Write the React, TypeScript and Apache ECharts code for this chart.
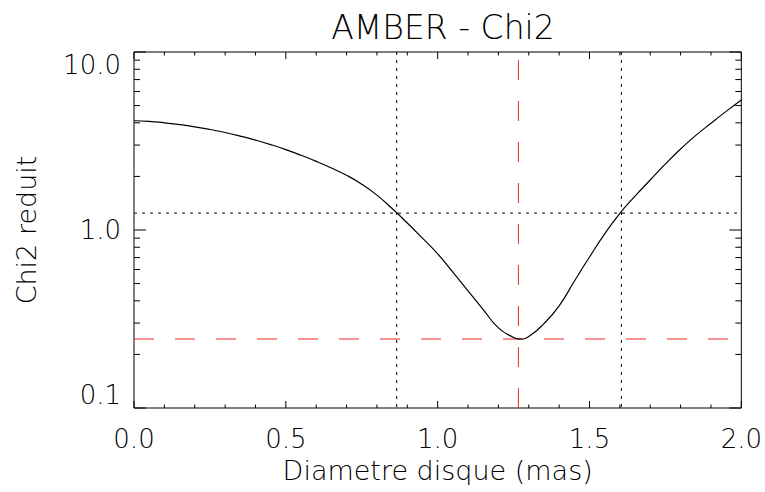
import React, { useEffect, useRef } from "react";
import * as echarts from "echarts";

// Curve: reduced chi2 vs uniform-disk diameter (mas)
const diameters = [
  0.0, 0.05, 0.1, 0.15, 0.2, 0.25, 0.3, 0.35, 0.4, 0.45, 0.5, 0.55, 0.6, 0.65,
  0.7, 0.75, 0.8, 0.85, 0.9, 0.95, 1.0, 1.05, 1.1, 1.15, 1.2, 1.25, 1.27, 1.3,
  1.35, 1.4, 1.45, 1.5, 1.55, 1.6, 1.65, 1.7, 1.75, 1.8, 1.85, 1.9, 1.95, 2.0,
];
const chi2 = [
  4.11, 4.08, 4.0, 3.91, 3.8, 3.67, 3.53, 3.37, 3.2, 3.02, 2.83, 2.63, 2.43,
  2.23, 2.03, 1.81, 1.57, 1.32, 1.095, 0.9, 0.735, 0.58, 0.455, 0.357, 0.282,
  0.249, 0.244, 0.252, 0.298, 0.375, 0.515, 0.705, 0.95, 1.24, 1.55, 1.91, 2.35,
  2.85, 3.4, 3.98, 4.64, 5.38,
];

// Reference lines
const bestDiameter = 1.266;
const minChi2 = 0.244;
const errorBounds = [0.865, 1.605];
const chi2PlusOne = 1.244;

// Axis ranges and tick labels
const xRange = [0, 2];
const yRange = [0.1, 10];
const xTickLabels = ["0.0", "0.5", "1.0", "1.5", "2.0"];
const yTickLabels = ["0.1", "1.0", "10.0"];

const FONT = "DejaVu Sans";

export default function App() {
  const ref = useRef<HTMLDivElement>(null);

  useEffect(() => {
    document.body.style.margin = "0";
    if (!ref.current) return;
    const chart = echarts.init(ref.current, null, { renderer: "svg" });

    // tick positions (axis decoration)
    const xMinor: number[] = [];
    for (let i = 0; i <= 20; i++) xMinor.push(i / 10);
    const yMinor: number[] = [];
    [0.1, 1].forEach((d) => {
      for (let k = 2; k <= 9; k++) yMinor.push(d * k);
    });

    const tickRender = (params: any, api: any) => {
      const cs = params.coordSys;
      const left = cs.x;
      const right = cs.x + cs.width;
      const top = cs.y;
      const bottom = cs.y + cs.height;
      const children: any[] = [];
      const st = { stroke: "#000", lineWidth: 1 };
      xMinor.forEach((v) => {
        const isMajor = xTickLabels.includes(v.toFixed(1));
        const len = isMajor ? 7 : 3.5;
        const px = api.coord([v, 1])[0];
        children.push({
          type: "line",
          shape: { x1: px, y1: bottom, x2: px, y2: bottom - len },
          style: st,
        });
        children.push({
          type: "line",
          shape: { x1: px, y1: top, x2: px, y2: top + len },
          style: st,
        });
      });
      const yAll = yMinor
        .map((v) => ({ v, len: 6 }))
        .concat([0.1, 1, 10].map((v) => ({ v, len: 12 })));
      yAll.forEach(({ v, len }) => {
        const py = api.coord([0, v])[1];
        children.push({
          type: "line",
          shape: { x1: left, y1: py, x2: left + len, y2: py },
          style: st,
        });
        children.push({
          type: "line",
          shape: { x1: right, y1: py, x2: right - len, y2: py },
          style: st,
        });
      });
      return { type: "group", children };
    };

    const labelFont = {
      fontFamily: FONT,
      fontWeight: 200 as any,
      color: "#000",
    };

    const refLine = (data: number[][], color: string, type: any) => ({
      type: "line",
      data,
      showSymbol: false,
      silent: true,
      lineStyle: { color, width: 1, type },
      z: 2,
    });

    const dotted = [3, 5];
    const dashed = [20, 21];

    chart.setOption({
      animation: false,
      backgroundColor: "#fff",
      textStyle: { fontFamily: FONT },
      title: {
        text: "AMBER - Chi2",
        left: 438,
        textAlign: "center",
        top: 6,
        textStyle: { ...labelFont, fontSize: 33 },
      },
      grid: {
        left: 134,
        right: 23,
        top: 52,
        bottom: 84,
        show: true,
        borderColor: "#000",
        borderWidth: 1,
      },
      xAxis: {
        type: "value",
        min: xRange[0],
        max: xRange[1],
        interval: 0.5,
        name: "Diametre disque (mas)",
        nameLocation: "middle",
        nameGap: 42,
        nameTextStyle: { ...labelFont, fontSize: 27 },
        axisLine: { show: false },
        axisTick: { show: false },
        splitLine: { show: false },
        axisLabel: {
          ...labelFont,
          margin: 18,
          fontSize: 26,
          formatter: (v: number) =>
            xTickLabels.find((t) => Math.abs(parseFloat(t) - v) < 1e-9) ?? "",
        },
      },
      yAxis: {
        type: "log",
        logBase: 10,
        min: yRange[0],
        max: yRange[1],
        name: "Chi2 reduit",
        nameLocation: "middle",
        nameGap: 94,
        nameTextStyle: { ...labelFont, fontSize: 27 },
        axisLine: { show: false },
        axisTick: { show: false },
        splitLine: { show: false },
        axisLabel: {
          ...labelFont,
          margin: 13,
          fontSize: 26,
          verticalAlignMinLabel: "bottom",
          verticalAlignMaxLabel: "top",
          formatter: (v: number) =>
            yTickLabels.find(
              (t) => Math.abs(parseFloat(t) - v) < 1e-6 * Math.max(1, v)
            ) ?? "",
        },
      },
      series: [
        {
          type: "line",
          data: diameters.map((d, i) => [d, chi2[i]]),
          showSymbol: false,
          smooth: 0.5,
          lineStyle: { color: "#000", width: 1.2 },
          silent: true,
          z: 3,
        },
        ...errorBounds.map((x) =>
          refLine([[x, yRange[1]], [x, yRange[0]]], "#000", dotted)
        ),
        refLine(
          [[xRange[0], chi2PlusOne], [xRange[1], chi2PlusOne]],
          "#000",
          dotted
        ),
        refLine(
          [[bestDiameter, yRange[0]], [bestDiameter, yRange[1]]],
          "#f02828",
          dashed
        ),
        refLine(
          [[xRange[0], minChi2], [xRange[1], minChi2]],
          "#f02828",
          dashed
        ),
        {
          type: "custom",
          renderItem: tickRender,
          data: [[0, 1]],
          silent: true,
          clip: false,
          z: 4,
        },
      ],
    });

    return () => chart.dispose();
  }, []);

  return <div ref={ref} style={{ width: 765, height: 492 }} />;
}
